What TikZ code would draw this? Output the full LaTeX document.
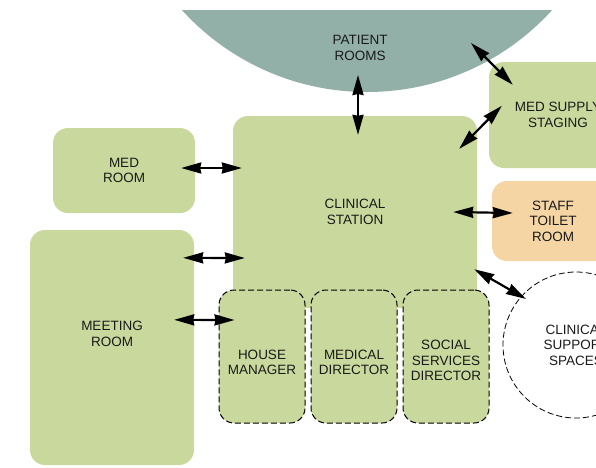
\documentclass[tikz,border=0pt]{standalone}
\usepackage{fontspec}
\setmainfont{Liberation Sans}
\usetikzlibrary{arrows.meta,calc}

\definecolor{roomgreen}{HTML}{C9D89C}
\definecolor{patientteal}{HTML}{93B0A8}
\definecolor{toiletorange}{HTML}{F5D5A4}
\definecolor{labelink}{HTML}{1A1A1A}

\tikzset{
  room/.style={rectangle, rounded corners=15pt, fill=roomgreen, draw=none,
    align=center, text=labelink, inner sep=0pt},
  office/.style={room, draw=black, line width=1pt, dash pattern=on 6pt off 3pt},
  roomtext/.style={align=center, text=labelink, inner sep=0pt},
  link/.style={line width=2.2pt, black,
    {Stealth[length=20pt,width=11pt,inset=1pt]}-{Stealth[length=20pt,width=11pt,inset=1pt]}},
}

\begin{document}
\begin{tikzpicture}[x=1pt, y=-1pt, font=\fontsize{13.5}{15.5}\selectfont]
  \useasboundingbox (0,0) rectangle (596,467);
  \clip (0,0) rectangle (596,467);

  % patient rooms: segment of a circle cut flat at the top
  \begin{scope}
    \clip (0,10) rectangle (596,467);
    \fill[patientteal] (367,-158) circle (250pt);
  \end{scope}
  \node[roomtext] (pr) at (360,48) {PATIENT\\ROOMS};

  % rooms
  \node[room, minimum width=244pt, minimum height=192pt] (cs) at (355,212) {CLINICAL\\STATION};
  \node[room, minimum width=142pt, minimum height=85pt] (mr) at (124,170.5) {MED\\ROOM};
  \node[room, minimum width=164pt, minimum height=235pt,
        label={[roomtext, yshift=13.5pt]center:{MEETING\\ROOM}}] (mt) at (112,347.5) {};
  \node[room, minimum width=138pt, minimum height=106pt] (ms) at (558,115) {MED SUPPLY\\STAGING};
  \node[room, fill=toiletorange, minimum width=122pt, minimum height=80pt] (st) at (553,221) {STAFF\\TOILET\\ROOM};

  % offices along the bottom of the station
  \node[office, minimum width=86pt, minimum height=133pt,
        label={[roomtext, yshift=-6pt]center:{HOUSE\\MANAGER}}] (hm) at (262,356.5) {};
  \node[office, minimum width=86pt, minimum height=133pt,
        label={[roomtext, yshift=-6pt]center:{MEDICAL\\DIRECTOR}}] (md) at (354,356.5) {};
  \node[office, minimum width=86pt, minimum height=133pt,
        label={[roomtext, yshift=-4pt]center:{SOCIAL\\SERVICES\\DIRECTOR}}] (sd) at (446,356.5) {};

  % clinical support spaces
  \node[circle, draw=black, line width=0.8pt, dash pattern=on 6pt off 3pt,
        minimum size=146pt, inner sep=0pt, align=center, text=labelink] (csp) at (576,345) {CLINICAL\\SUPPORT\\SPACES};

  % adjacencies
  \draw[link] ($(pr.center)+(-2,27)$) -- ($(cs.north)+(3,19)$);
  \draw[link] ($(pr.center)+(111,-5)$) -- ($(ms.north west)+(24,23)$);
  \draw[link] ($(ms.north west)+(13,44)$) -- ($(cs.north east)+(-18,33)$);
  \draw[link] ($(mr.east)+(-14,-2.5)$) -- ($(cs.west)+(9,-44)$);
  \draw[link] ($(mt.north east)+(-11,28)$) -- ($(cs.west)+(12,46)$);
  \draw[link] ($(mt.north east)+(-20,90)$) -- ($(hm.west)+(16,-36.5)$);
  \draw[link] ($(cs.east)+(-24,0)$) -- ($(st.west)+(21,-8)$);
  \draw[link] ($(cs.south east)+(-3,-39)$) -- ($(csp.center)+(-50,-46)$);
\end{tikzpicture}
\end{document}
